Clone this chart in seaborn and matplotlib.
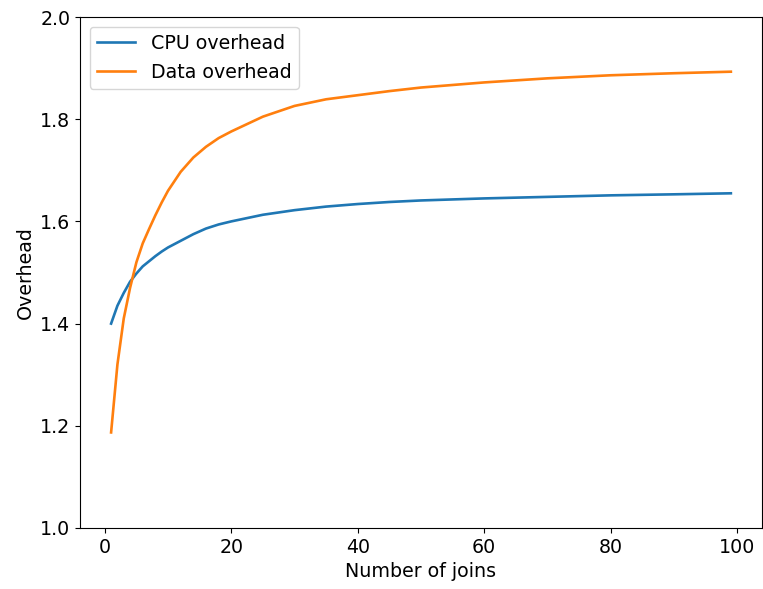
import matplotlib
matplotlib.use('Agg')
import matplotlib.pyplot as plt
import seaborn as sns
import pandas as pd

# values
joins = [1, 2, 3, 4, 5, 6, 7, 8, 9, 10, 12, 14, 16, 18, 20, 25, 30, 35, 40, 45, 50, 60, 70, 80, 90, 99]
cpu_overhead = [1.400, 1.435, 1.460, 1.482, 1.498, 1.512, 1.522, 1.532, 1.541, 1.549, 1.562, 1.575, 1.586,
                1.594, 1.600, 1.613, 1.622, 1.629, 1.634, 1.638, 1.641, 1.645, 1.648, 1.651, 1.653, 1.655]
data_overhead = [1.187, 1.320, 1.410, 1.470, 1.520, 1.557, 1.585, 1.612, 1.637, 1.660, 1.697, 1.725, 1.746,
                 1.763, 1.776, 1.805, 1.826, 1.839, 1.847, 1.855, 1.862, 1.872, 1.880, 1.886, 1.890, 1.893]
series_names = ['CPU overhead', 'Data overhead']

df = pd.concat([
    pd.DataFrame({'joins': joins, 'Overhead': cpu_overhead, 'series': series_names[0]}),
    pd.DataFrame({'joins': joins, 'Overhead': data_overhead, 'series': series_names[1]}),
])

plt.rcParams['font.family'] = ['DejaVu Sans']
plt.rcParams['font.size'] = 13.7

fig = plt.figure(figsize=(7.63, 5.89), dpi=100)
ax = fig.add_axes([0.105, 0.1036, 0.8935, 0.8675])

sns.lineplot(data=df, x='joins', y='Overhead', hue='series', hue_order=series_names,
             palette=['#1f77b4', '#ff7f0e'], linewidth=1.9, ax=ax)

ax.set_ylim(1.0, 2.0)
ax.set_xticks([0, 20, 40, 60, 80, 100])
ax.set_yticks([1.0, 1.2, 1.4, 1.6, 1.8, 2.0])
ax.set_xlabel('Number of joins')
ax.set_ylabel('Overhead')
ax.legend(title=None, loc='upper left')

plt.savefig('out.png', dpi=100)
